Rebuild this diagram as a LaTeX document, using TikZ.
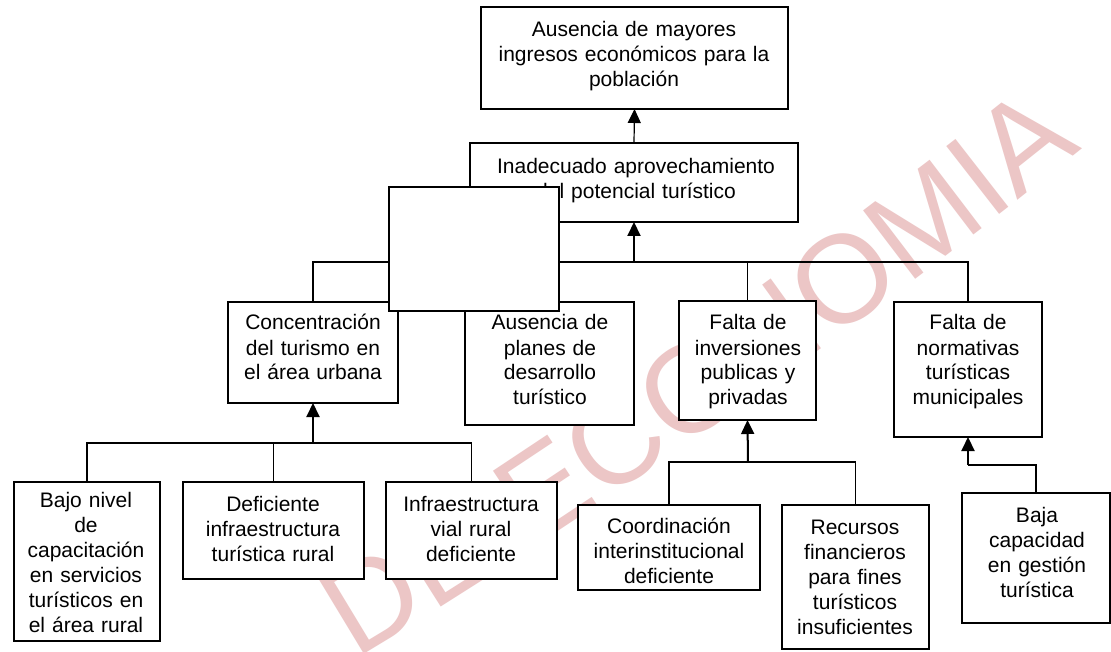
\documentclass[tikz,border=0pt]{standalone}
\usepackage{fontspec}
\setmainfont{Liberation Sans}
\usetikzlibrary{arrows.meta,decorations.text}
\definecolor{wm}{RGB}{236,198,198}
\newcommand\wmstyle{\fontsize{125}{125}\selectfont}
\tikzset{
  box/.style={draw, fill=white, line width=1.2pt, inner sep=0pt, outer sep=0pt, rectangle},
  txt/.style={inner sep=0pt, align=center, font=\fontsize{21}{25}\selectfont, anchor=base},
  conn/.style={line width=1.1pt},
  arr/.style={line width=2pt, -{Triangle[length=14pt,width=13pt]}},
  arrthin/.style={line width=1.2pt, -{Triangle[length=14pt,width=13pt]}}
}
\begin{document}
\begin{tikzpicture}[x=1pt,y=-1pt]
\useasboundingbox[fill=white] (0,0) rectangle (1111,652);
% watermark
\path[decorate, decoration={text along path, text align={left indent=18pt}, text color=wm,
  text={|\wmstyle|DE ECONOMIA}}]
  (340,668) .. controls (590,524) and (985,240) .. (1200,50);
% boxes
\node[box, minimum width=307pt, minimum height=102pt] (top) at (634.5,58) {};
\node[box, line width=2.8pt, minimum width=328pt, minimum height=79pt] (inad) at (634,182.5) {};
\node[box, minimum width=170pt, minimum height=101pt] (conc) at (313,352.5) {};
\node[box, minimum width=169pt, minimum height=123pt] (ap) at (549.5,363.5) {};
\node[box, minimum width=137pt, minimum height=119pt] (fi) at (747.5,360.5) {};
\node[box, minimum width=148pt, minimum height=135pt] (fn) at (968,369.5) {};
\node[box, minimum width=146pt, minimum height=159pt] (bajo) at (87,561.5) {};
\node[box, minimum width=181pt, minimum height=97pt] (def) at (273.5,530.5) {};
\node[box, minimum width=171pt, minimum height=97pt] (inf) at (471.5,530.5) {};
\node[box, minimum width=182pt, minimum height=85pt] (coord) at (669,547.5) {};
\node[box, minimum width=147pt, minimum height=144pt] (rec) at (855.5,577) {};
\node[box, minimum width=148pt, minimum height=130pt] (baja) at (1036,558) {};
% texts
\node[txt, text width=300pt] (top-t) at (634,37) {Ausencia de mayores\\ingresos económicos para la\\población};
\node[txt, text width=320pt] (inad-t) at (636,174) {Inadecuado aprovechamiento\\del potencial turístico};
\node[txt, text width=164pt] (conc-t) at (313,330) {Concentración\\del turismo en\\el área urbana};
\node[txt, text width=163pt] (ap-t) at (550,330) {Ausencia de\\planes de\\desarrollo\\turístico};
\node[txt, text width=131pt] (fi-t) at (748,330) {Falta de\\inversiones\\publicas y\\privadas};
\node[txt, text width=142pt] (fn-t) at (968,330) {Falta de\\normativas\\turísticas\\municipales};
\node[txt, text width=140pt] (bajo-t) at (86,507) {Bajo nivel\\de\\capacitación\\en servicios\\turísticos en\\el área rural};
\node[txt, text width=175pt] (def-t) at (273,511) {Deficiente\\infraestructura\\turística rural};
\node[txt, text width=165pt] (inf-t) at (471,511) {Infraestructura\\vial rural\\deficiente};
\node[txt, text width=176pt] (coord-t) at (669,533) {Coordinación\\interinstitucional\\deficiente};
\node[txt, text width=141pt] (rec-t) at (855,534) {Recursos\\financieros\\para fines\\turísticos\\insuficientes};
\node[txt, text width=142pt] (baja-t) at (1037,522) {Baja\\capacidad\\en gestión\\turística};
% connectors
\coordinate (bus1) at (634,262);
\coordinate (bus2) at (313,443);
\coordinate (bus3) at (748,462);
\coordinate (bend) at (968,465);
\draw[arrthin] (inad.north) -- (top.south);
\draw[conn] (conc.north) |- (bus1);
\draw[conn] (fn.north) |- (bus1);
\draw[conn] (ap.north) -- (ap.north |- bus1);
\draw[conn] (fi.north) -- (fi.north |- bus1);
\draw[arr] (bus1) -- (inad.south);
\draw[conn] (bajo.north) |- (bus2);
\draw[conn] (inf.north) |- (bus2);
\draw[conn] (def.north) -- (def.north |- bus2);
\draw[arr] (bus2) -- (conc.south);
\draw[conn] (coord.north) |- (bus3);
\draw[conn] (rec.north) |- (bus3);
\draw[arr] (bus3) -- (fi.south);
\draw[conn] (baja.north) |- (bend);
\draw[arr] (bend) -- (fn.south);
% blank box on top
\node[box, minimum width=170pt, minimum height=124pt] (blank) at (474,249) {};
\end{tikzpicture}
\end{document}
